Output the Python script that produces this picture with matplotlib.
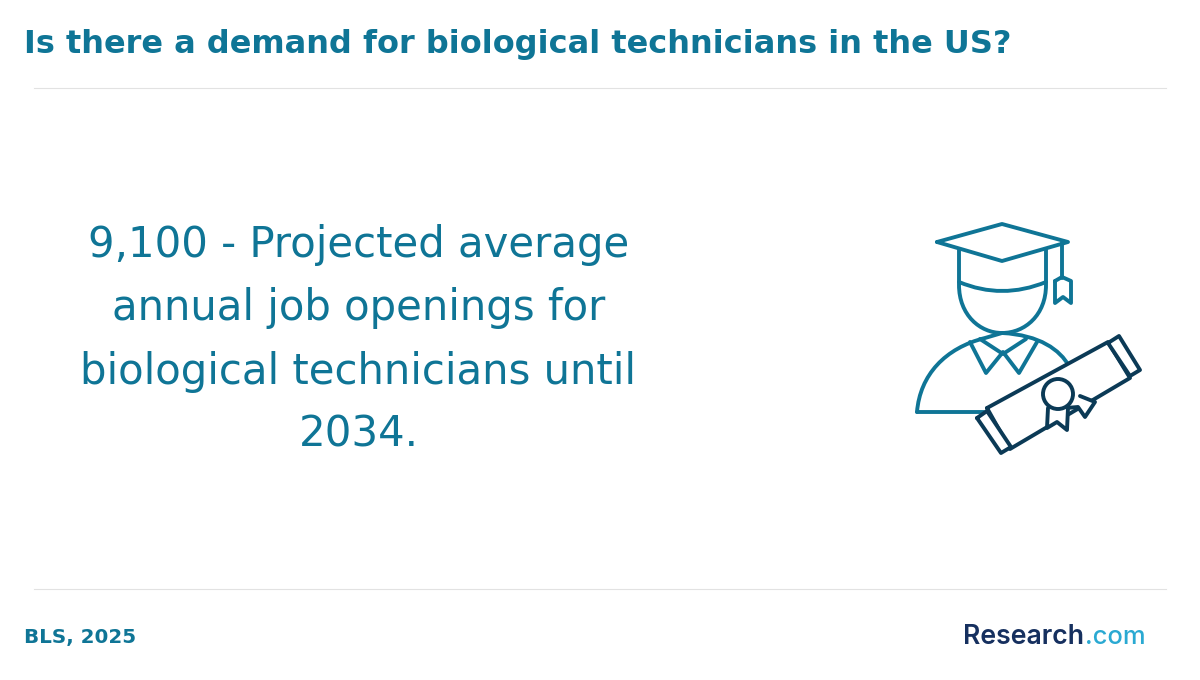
import matplotlib
matplotlib.use("Agg")
import matplotlib.pyplot as plt
from matplotlib.path import Path
from matplotlib.patches import PathPatch, Circle

title = "Is there a demand for biological technicians in the US?"
openings = "9,100"
statement = [openings + " - Projected average", "annual job openings for",
             "biological technicians until", "2034."]
source = "BLS, 2025"
logo_dark = "Research"
logo_light = ".com"

teal = "#0f7596"
navy = "#0b3a56"
rule = "#e2e2e2"

fig = plt.figure(figsize=(12, 6.8), dpi=100)
ax = fig.add_axes([0, 0, 1, 1])
# axes in picture pixels, y going down
ax.set_xlim(0, 1200)
ax.set_ylim(680, 0)
ax.axis("off")

ax.text(24, 44, title, fontsize=23, fontweight="bold", color=teal, va="center", ha="left")
ax.plot([34, 1166], [88, 88], color=rule, lw=0.8)
ax.plot([34, 1166], [589, 589], color=rule, lw=0.8)

for i, line in enumerate(statement):
    ax.text(358.5, 245 + i * 63.3, line, fontsize=30.2, color=teal, va="center", ha="center")

ax.text(24, 637, source, fontsize=14.3, fontweight="bold", color=teal, va="center", ha="left")


def stroke(pts, codes=None, color=teal, lw=2.8, fill="none", z=3):
    if codes is None:
        codes = [Path.MOVETO] + [Path.LINETO] * (len(pts) - 1)
    ax.add_patch(PathPatch(Path(pts, codes), facecolor=fill, edgecolor=color, lw=lw,
                           joinstyle="round", capstyle="round", zorder=z))


C3 = Path.CURVE3
C4 = Path.CURVE4
M = Path.MOVETO
L = Path.LINETO

# person: shoulders
stroke([(917, 412), (920, 375), (945, 348), (985, 338), (1002, 333), (1040, 335), (1060, 350), (1069, 366)],
       [M, C4, C4, C4, L, C4, C4, C4])
stroke([(917, 412), (984, 412)])
# collar
stroke([(970, 342), (986, 373), (1003, 352), (1019, 373), (1037, 342)])
stroke([(980, 339), (1003, 354), (1026, 339)])
# head
stroke([(959, 250), (959, 285), (959, 315), (980, 333), (1002, 333), (1025, 333), (1046, 315), (1046, 285), (1046, 250)],
       [M, L, C4, C4, C4, C4, C4, C4, L])
stroke([(959, 282), (1002, 300), (1046, 282)], [M, C3, C3])
# cap
stroke([(937, 242), (1002, 224), (1068, 242), (1002, 261), (937, 242)], fill="white")
# tassel
stroke([(1062, 243), (1062, 278)])
stroke([(1055, 281), (1062, 277), (1071, 281), (1071, 303), (1063, 297), (1055, 303), (1055, 281)])

# diploma
stroke([(987, 408), (1108, 342), (1130, 378), (1010, 449), (987, 408)], color=navy, fill="white", z=4)
stroke([(977, 418), (987, 411), (1011, 447), (1001, 453), (977, 418)], color=navy, fill="white", z=4)
stroke([(1108, 343), (1119, 336), (1140, 370), (1130, 376), (1108, 343)], color=navy, fill="white", z=4)
# ribbons and seal
stroke([(1080, 396), (1095, 402), (1085, 417), (1078, 407), (1066, 408)], color=navy, fill="white", z=5)
stroke([(1048, 408), (1047, 428), (1057, 422), (1067, 430), (1068, 408)], color=navy, fill="white", z=5)
ax.add_patch(Circle((1058, 394), 15, facecolor="white", edgecolor=navy, lw=2.8, zorder=6))

# logo
ax.text(963, 637, logo_dark, fontsize=19.2, family="Inter", fontweight="semibold",
        color="#16305f", va="center", ha="left")
ax.text(1085, 637, logo_light, fontsize=18.4, family="Inter", fontweight="medium",
        color="#2aa9d2", va="center", ha="left")

fig.savefig("out.png", dpi=100, facecolor="white")
